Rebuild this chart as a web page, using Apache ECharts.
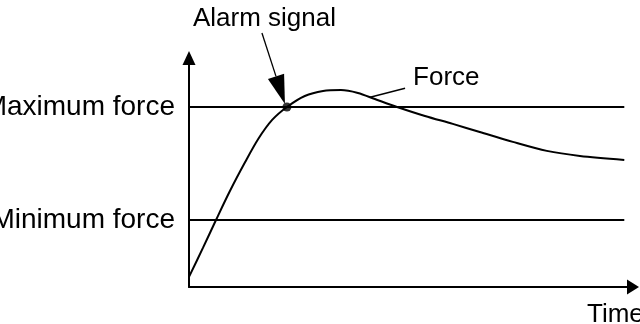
<!DOCTYPE html>
<html><head><meta charset="utf-8">
<script src="https://cdn.jsdelivr.net/npm/echarts@6/dist/echarts.min.js"></script>
<style>html,body{margin:0;padding:0;background:#fff}#c{width:640px;height:324px}</style>
</head><body><div id="c"></div>
<script>
// ---- data ----
const timeValues  = [0, 3.2, 6.2, 9.4, 12.9, 15.9, 19.1, 22.5, 26.6, 30.8, 34.9, 38.8, 42.7, 47.8, 54.2, 60.6, 66.8, 74.4, 82.2, 89.8, 100];
const forceValues = [5.6, 21.7, 37.2, 53.3, 69.4, 82.2, 92.8, 100, 106.1, 108.9, 109.4, 107.8, 104.4, 100, 95, 90.6, 86.1, 80.6, 75.6, 72.8, 70.6];
const thresholdNames  = ['Minimum force', 'Maximum force'];
const thresholdValues = [37.2, 100];
const thresholdSpan   = [0, 100];
const alarmPoint      = [22.5, 100];
const forceLabelPoint = [41.6, 105.4];
const xAxisName = 'Time';
const alarmText = 'Alarm signal';
const forceText = 'Force';

// ---- chart ----
const FONT = '"Liberation Sans", Arial, Helvetica, sans-serif';
const chart = echarts.init(document.getElementById('c'), null, {renderer: 'canvas'});
const curve = timeValues.map((t, i) => [t, forceValues[i]]);
const black = '#000';

chart.setOption({
  animation: false,
  backgroundColor: '#fff',
  grid: {left: 189, right: 7, top: 58, bottom: 37, outerBoundsMode: 'none'},
  xAxis: {
    type: 'value', min: 0, max: 102,
    axisLine: {show: true, onZero: false, lineStyle: {color: black, width: 2}, symbol: ['none', 'triangle'], symbolSize: [15, 12]},
    axisTick: {show: false}, axisLabel: {show: false}, splitLine: {show: false}
  },
  yAxis: {
    type: 'value', min: 0, max: 127.2,
    axisLine: {show: true, onZero: false, lineStyle: {color: black, width: 2}, symbol: ['none', 'triangle'], symbolSize: [13, 14]},
    axisTick: {show: false},
    axisLabel: {
      show: true, customValues: thresholdValues,
      formatter: v => { const i = thresholdValues.findIndex(t => Math.abs(t - v) < 1e-6); return i >= 0 ? thresholdNames[i] : ''; },
      color: black, fontSize: 28, fontFamily: FONT, margin: 14
    },
    splitLine: {show: false}
  },
  series: [
    ...thresholdValues.map(v => ({
      type: 'line', data: thresholdSpan.map(t => [t, v]), symbol: 'none', silent: true,
      lineStyle: {color: black, width: 2}
    })),
    {type: 'line', data: curve, smooth: 0.3, symbol: 'none', clip: false, lineStyle: {color: black, width: 2}},
    {type: 'scatter', data: [alarmPoint], symbolSize: 9, itemStyle: {color: black}, clip: false}
  ]
});

// ---- annotations anchored on data points ----
const P = chart.convertToPixel({gridIndex: 0}, alarmPoint);
const F = chart.convertToPixel({gridIndex: 0}, forceLabelPoint);
const E = chart.convertToPixel({gridIndex: 0}, [102, 0]);

const tip = [P[0] - 2, P[1] - 3];
const tail = [P[0] - 25, P[1] - 74];
const dx = tip[0] - tail[0], dy = tip[1] - tail[1];
const len = Math.hypot(dx, dy);
const ux = dx / len, uy = dy / len;
const headLen = 29, headHalf = 8.5;
const base = [tip[0] - headLen * ux, tip[1] - headLen * uy];
const px = -uy, py = ux;

function txt(str, x, y) {
  return {type: 'text', silent: true, style: {text: str, x: x, y: y, fill: black, fontSize: 26, fontFamily: FONT, align: 'left', verticalAlign: 'middle'}};
}

chart.setOption({
  graphic: [
    txt(alarmText, P[0] - 94, P[1] - 88),
    {type: 'line', silent: true, shape: {x1: tail[0], y1: tail[1], x2: base[0], y2: base[1]}, style: {stroke: black, lineWidth: 1.3}},
    {type: 'polygon', silent: true, shape: {points: [tip, [base[0] + px * headHalf, base[1] + py * headHalf], [base[0] - px * headHalf, base[1] - py * headHalf]]}, style: {fill: black}},
    {type: 'line', silent: true, shape: {x1: F[0], y1: F[1], x2: F[0] + 35, y2: F[1] - 9}, style: {stroke: black, lineWidth: 1.3}},
    txt(forceText, F[0] + 43, F[1] - 19),
    txt(xAxisName, E[0] - 46, E[1] + 28)
  ]
});
</script>
</body></html>
